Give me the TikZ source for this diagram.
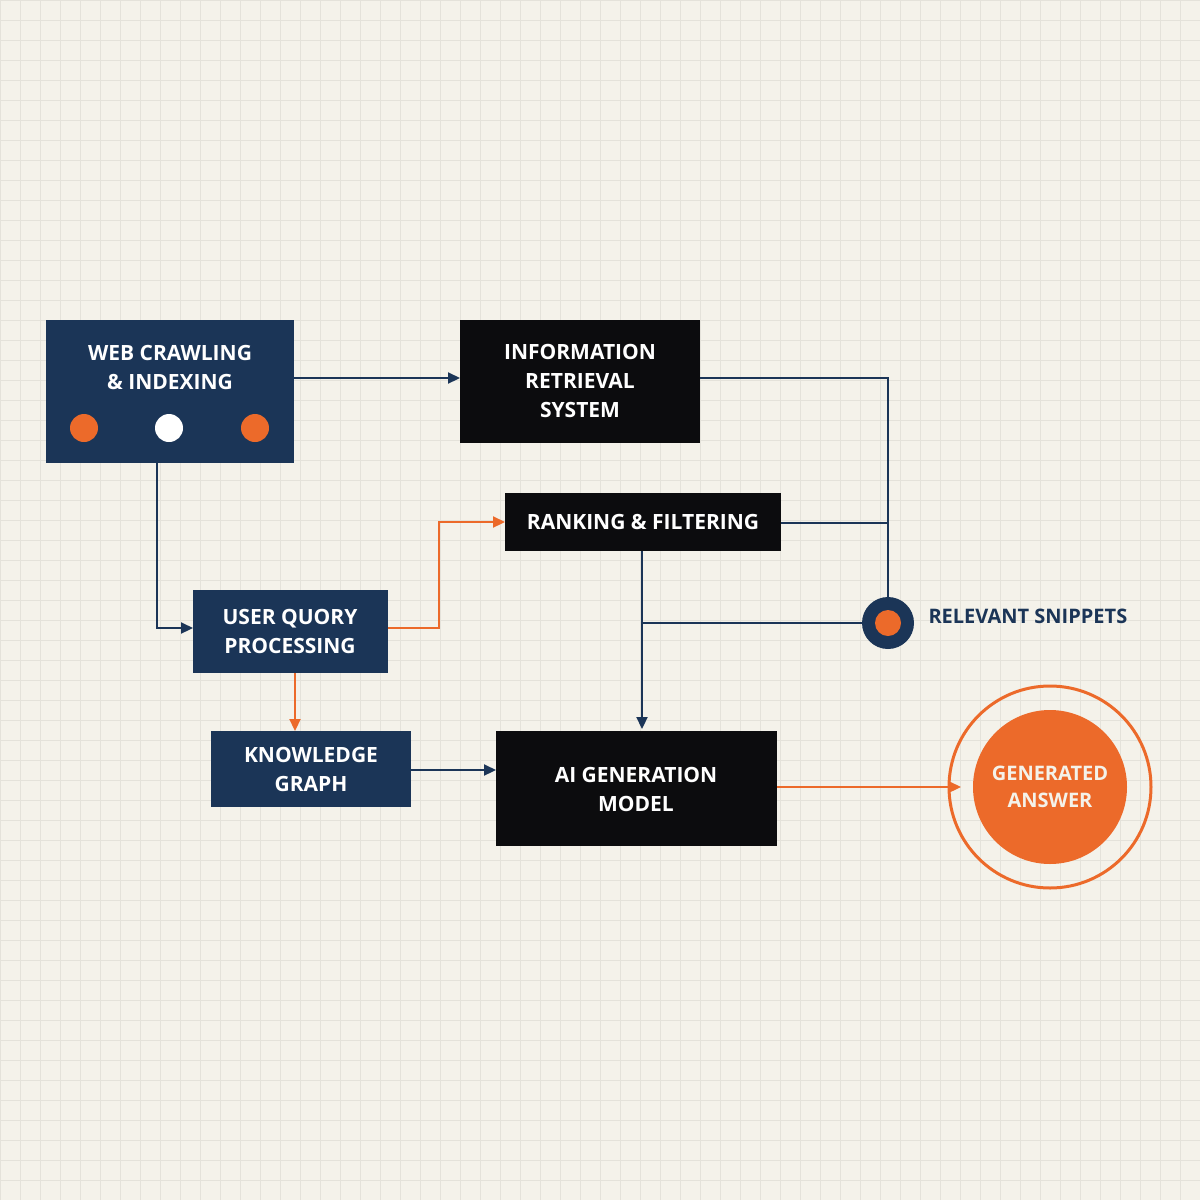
\documentclass[tikz,border=0pt]{standalone}
\usepackage{fontspec}
\setmainfont{Open Sans}
\usetikzlibrary{arrows.meta}
\definecolor{bg}{HTML}{F4F2EA}
\definecolor{gridc}{HTML}{E4E2DA}
\definecolor{navy}{HTML}{1B3557}
\definecolor{blk}{HTML}{0C0C0E}
\definecolor{org}{HTML}{EC6A2A}
\begin{document}
\begin{tikzpicture}[x=1pt,y=-1pt,
 box/.style={draw=none,inner sep=0,align=center,text=white,font=\bfseries\fontsize{21}{29}\selectfont},
 ln/.style={draw=navy,line width=2.2pt},
 ol/.style={draw=org,line width=2.2pt},
 tip/.style={-{Triangle[length=12pt,width=11pt]}}]
\fill[bg] (0,0) rectangle (1200,1200);
\useasboundingbox (0,0) rectangle (1200,1200);
\foreach \i in {0,20,...,1200}{\draw[gridc,line width=0.8pt] (\i,0)--(\i,1200); \draw[gridc,line width=0.8pt] (0,\i)--(1200,\i);}
% boxes
\fill[navy] (46,320) rectangle (294,463);
\node[box] (web) at (170,367) {WEB CRAWLING\\\& INDEXING};
\coordinate (webR) at (294,378); \coordinate (webB) at (157,463);
\fill[org] (84,428) circle (14); \fill[white] (169,428) circle (14); \fill[org] (255,428) circle (14);
\fill[blk] (460,320) rectangle (700,443);
\node[box] (ir) at (580,381) {INFORMATION\\RETRIEVAL\\SYSTEM};
\fill[blk] (505,493) rectangle (781,551);
\node[box] (rank) at (643,522) {RANKING \& FILTERING};
\fill[navy] (193,590) rectangle (388,673);
\node[box] (uq) at (290,631) {USER QUORY\\PROCESSING};
\fill[navy] (211,731) rectangle (411,807);
\node[box] (kg) at (311,769) {KNOWLEDGE\\GRAPH};
\fill[blk] (496,731) rectangle (777,846);
\node[box] (ai) at (636,789) {AI GENERATION\\MODEL};
% snippets
\node[circle,fill=navy,minimum size=52pt,inner sep=0] (sn) at (888,623) {};
\fill[org] (888,623) circle (13);
\node[anchor=west,text=navy,font=\bfseries\fontsize{20}{24}\selectfont] (snl) at (925,616) {RELEVANT SNIPPETS};
% answer
\draw[org,line width=3pt] (1050,787) circle (101);
\node[circle,fill=org,minimum size=154pt,inner sep=0,align=center,text=bg,font=\bfseries\fontsize{20}{27}\selectfont] (ans) at (1050,787) {GENERATED\\ANSWER};
% connectors
\draw[ln,tip] (webR) -- (460,378);
\draw[ln] (700,378) -- (888,378) -- (sn.north);
\draw[ln] (781,523) -- (888,523);
\draw[ln,tip] (642,551) -- (642,729);
\draw[ln] (sn.west) -- (642,623);
\draw[ln,tip] (webB) -- (157,628) -- (193,628);
\draw[ol,tip] (388,628) -- (439,628) -- (439,522) -- (505,522);
\draw[ol,tip] (295,673) -- (295,731);
\draw[ln,tip] (411,770) -- (496,770);
\draw[ol,tip] (777,787) -- (961,787);
\end{tikzpicture}
\end{document}
